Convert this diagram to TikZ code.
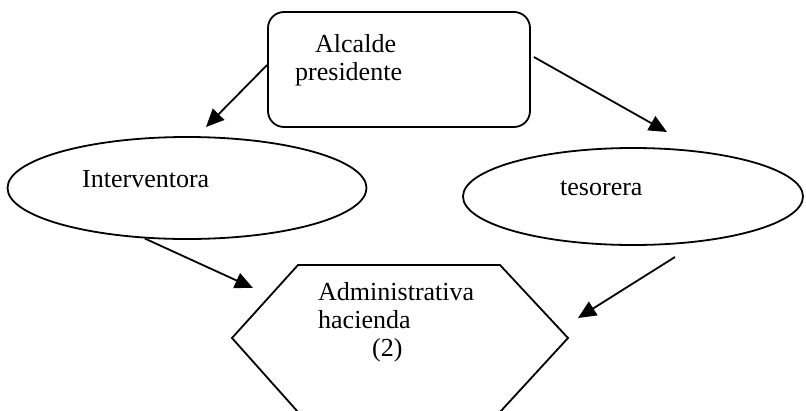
\documentclass[tikz,border=0pt]{standalone}
\usepackage{fontspec}
\setmainfont{Liberation Serif}
\usetikzlibrary{arrows.meta,shapes.geometric}
\begin{document}
\begin{tikzpicture}[x=1pt,y=-1pt,
  shp/.style={draw, line width=1.8pt, inner sep=0pt},
  arr/.style={-{Triangle[length=18pt,width=16pt]}, line width=1.8pt},
  lbl/.style={anchor=base west, inner sep=0pt, font=\fontsize{26}{28}\selectfont}]
\useasboundingbox (0,0) rectangle (806,410);
% shapes
\node[shp, rounded corners=16pt, minimum width=262pt, minimum height=115pt] (alc) at (399,69.5) {};
\node[shp, ellipse, minimum width=359pt, minimum height=102pt] (int) at (187,188) {};
\node[shp, ellipse, minimum width=340pt, minimum height=97pt] (tes) at (633,196.5) {};
\coordinate (h1) at (298,265);
\coordinate (h2) at (500,265);
\coordinate (h3) at (568,338);
\coordinate (h4) at (500,412);
\coordinate (h5) at (298,412);
\coordinate (h6) at (232,338);
\draw[line width=1.8pt, line join=miter] (h1) -- (h2) -- (h3) -- (h4) -- (h5) -- (h6) -- cycle;
% texts
\node[lbl] (t1) at (315,52) {Alcalde};
\node[lbl] (t2) at (295,80) {presidente};
\node[lbl] (t3) at (82,187) {Interventora};
\node[lbl] (t4) at (560,195) {tesorera};
\node[lbl] (t5) at (318,300) {Administrativa};
\node[lbl] (t6) at (318,328) {hacienda};
\node[lbl] (t7) at (372,356) {(2)};
% connectors
\coordinate (e1) at (206,127);
\coordinate (e2) at (667,132);
\coordinate (e3) at (253,288);
\coordinate (s4) at (675,257);
\coordinate (e4) at (578,318);
\draw[arr] ([yshift=4.5pt]alc.west) -- (e1);
\draw[arr] ([yshift=12.5pt,xshift=3pt]alc.east) -- (e2);
\draw[arr] (int.230) -- (e3);
\draw[arr] (s4) -- (e4);
\end{tikzpicture}
\end{document}
